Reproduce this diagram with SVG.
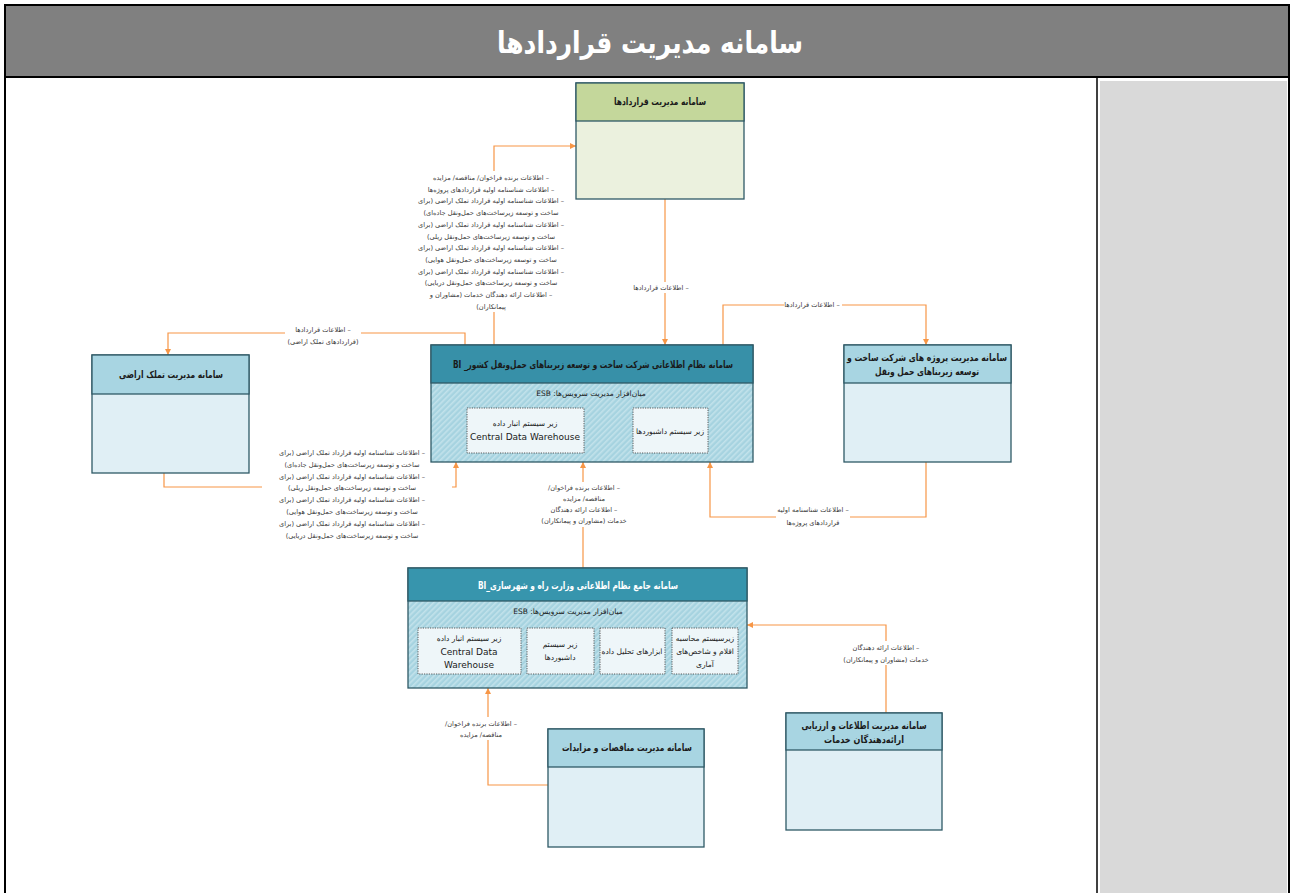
<svg xmlns="http://www.w3.org/2000/svg" width="1291" height="893" viewBox="0 0 1291 893">
<defs>
<style>
.fa{font-family:"DejaVu Sans",sans-serif;direction:rtl;text-anchor:middle;}
.en{font-family:"DejaVu Sans","Liberation Sans",sans-serif;text-anchor:middle;}
.lbl{font-size:6.6px;fill:#3a3a3a;}
.hd{font-size:10px;font-weight:bold;fill:#1a1a1a;}
.hdw{font-size:10px;font-weight:bold;fill:#ffffff;}
.sub{font-size:7.5px;fill:#1a1a1a;}
.box{stroke:#2f5966;stroke-width:1.3;}
.inner{fill:#eef6f9;stroke:#4a4a4a;stroke-width:0.9;stroke-dasharray:1.2 1.2;}
.con{fill:none;stroke:#f79646;stroke-width:1.2;}
.bg{fill:#ffffff;}
</style>
<marker id="arr" viewBox="0 0 6 6" refX="6" refY="3" markerWidth="6" markerHeight="6" markerUnits="userSpaceOnUse" orient="auto">
<path d="M0,0 L6,3 L0,6 z" fill="#f79646"/>
</marker>
<pattern id="hatch" patternUnits="userSpaceOnUse" width="4" height="4" patternTransform="rotate(45)">
<rect width="4" height="4" fill="#a6d3e0"/>
<rect width="1.6" height="4" fill="#c2e2eb"/>
</pattern>
</defs>

<!-- frame -->
<rect x="0" y="0" width="1291" height="893" fill="#ffffff"/>
<rect x="5" y="5" width="1284" height="72" fill="#808080"/>
<rect x="1100" y="81" width="187" height="812" fill="#d9d9d9"/>
<rect x="5" y="5" width="1284" height="890" fill="none" stroke="#000" stroke-width="2"/>
<line x1="5" y1="77" x2="1289" y2="77" stroke="#000" stroke-width="2"/>
<line x1="1097" y1="77" x2="1097" y2="893" stroke="#000" stroke-width="1.5"/>
<text class="fa" x="650" y="53" font-size="30" font-weight="bold" fill="#ffffff" textLength="306" lengthAdjust="spacingAndGlyphs">سامانه مدیریت قراردادها</text>

<!-- connectors -->
<g id="connectors">
<path class="con" d="M494,345 V146 H576" marker-end="url(#arr)"/>
<path class="con" d="M665,199 V345" marker-end="url(#arr)"/>
<path class="con" d="M465,345 V333 H168 V355" marker-end="url(#arr)"/>
<path class="con" d="M723,345 V305 H926 V345" marker-end="url(#arr)"/>
<path class="con" d="M164,473 V487 H456 V462" marker-end="url(#arr)"/>
<path class="con" d="M926,462 V517 H710 V462" marker-end="url(#arr)"/>
<path class="con" d="M583,568 V462" marker-end="url(#arr)"/>
<path class="con" d="M886,713 V625 H747" marker-end="url(#arr)"/>
<path class="con" d="M548,785 H488 V688" marker-end="url(#arr)"/>
</g>

<!-- connector labels -->
<g id="labels">
<rect class="bg" x="418" y="171" width="148" height="141"/>
<g class="fa lbl">
<text x="491" y="180">– اطلاعات برنده فراخوان/ مناقصه/ مزایده</text>
<text x="491" y="191.7">– اطلاعات شناسنامه اولیه قراردادهای پروژه‌ها</text>
<text x="491" y="203.4">– اطلاعات شناسنامه اولیه قرارداد تملک اراضی (برای</text>
<text x="491" y="215.1">ساخت و توسعه زیرساخت‌های حمل‌ونقل جاده‌ای)</text>
<text x="491" y="226.8">– اطلاعات شناسنامه اولیه قرارداد تملک اراضی (برای</text>
<text x="491" y="238.5">ساخت و توسعه زیرساخت‌های حمل‌ونقل ریلی)</text>
<text x="491" y="250.2">– اطلاعات شناسنامه اولیه قرارداد تملک اراضی (برای</text>
<text x="491" y="261.9">ساخت و توسعه زیرساخت‌های حمل‌ونقل هوایی)</text>
<text x="491" y="273.6">– اطلاعات شناسنامه اولیه قرارداد تملک اراضی (برای</text>
<text x="491" y="285.3">ساخت و توسعه زیرساخت‌های حمل‌ونقل دریایی)</text>
<text x="491" y="297">– اطلاعات ارائه دهندگان خدمات (مشاوران و</text>
<text x="491" y="308.7">پیمانکاران)</text>
</g>

<rect class="bg" x="634" y="282" width="56" height="11"/>
<text class="fa lbl" x="661" y="290">– اطلاعات قراردادها</text>

<rect class="bg" x="285" y="324" width="76" height="22"/>
<text class="fa lbl" x="323" y="332">– اطلاعات قراردادها</text>
<text class="fa lbl" x="323" y="344">(قراردادهای تملک اراضی)</text>

<rect class="bg" x="784" y="299" width="58" height="11"/>
<text class="fa lbl" x="812" y="307">– اطلاعات قراردادها</text>

<rect class="bg" x="262" y="446" width="190" height="94"/>
<g class="fa lbl" font-size="7.6">
<text x="352" y="455">– اطلاعات شناسنامه اولیه قرارداد تملک اراضی (برای</text>
<text x="352" y="466.8">ساخت و توسعه زیرساخت‌های حمل‌ونقل جاده‌ای)</text>
<text x="352" y="478.6">– اطلاعات شناسنامه اولیه قرارداد تملک اراضی (برای</text>
<text x="352" y="490.4">ساخت و توسعه زیرساخت‌های حمل‌ونقل ریلی)</text>
<text x="352" y="502.2">– اطلاعات شناسنامه اولیه قرارداد تملک اراضی (برای</text>
<text x="352" y="514">ساخت و توسعه زیرساخت‌های حمل‌ونقل هوایی)</text>
<text x="352" y="525.8">– اطلاعات شناسنامه اولیه قرارداد تملک اراضی (برای</text>
<text x="352" y="537.6">ساخت و توسعه زیرساخت‌های حمل‌ونقل دریایی)</text>
</g>

<rect class="bg" x="540" y="482" width="88" height="45"/>
<g class="fa lbl">
<text x="584" y="490">– اطلاعات برنده فراخوان/</text>
<text x="584" y="501">مناقصه/ مزایده</text>
<text x="584" y="512">– اطلاعات ارائه دهندگان</text>
<text x="584" y="523">خدمات (مشاوران و پیمانکاران)</text>
</g>

<rect class="bg" x="776" y="505" width="74" height="22"/>
<text class="fa lbl" x="813" y="512">– اطلاعات شناسنامه اولیه</text>
<text class="fa lbl" x="813" y="525">قراردادهای پروژه‌ها</text>

<rect class="bg" x="842" y="641" width="90" height="24"/>
<text class="fa lbl" x="886" y="650">– اطلاعات ارائه دهندگان</text>
<text class="fa lbl" x="886" y="662">خدمات (مشاوران و پیمانکاران)</text>

<rect class="bg" x="438" y="717" width="86" height="23"/>
<text class="fa lbl" x="481" y="726">– اطلاعات برنده فراخوان/</text>
<text class="fa lbl" x="481" y="737">مناقصه/ مزایده</text>
</g>

<!-- nodes -->
<g id="node-contracts">
<rect class="box" x="576" y="83" width="168" height="116" fill="#ebf1de"/>
<rect class="box" x="576" y="83" width="168" height="38" fill="#c4d79b"/>
<text class="fa hd" x="660" y="105" textLength="92" lengthAdjust="spacingAndGlyphs">سامانه مدیریت قراردادها</text>
</g>

<g id="node-land">
<rect class="box" x="92" y="355" width="157" height="118" fill="#e0eff5"/>
<rect class="box" x="92" y="355" width="157" height="39" fill="#a8d5e2"/>
<text class="fa hd" x="171" y="378" textLength="104" lengthAdjust="spacingAndGlyphs">سامانه مدیریت تملک اراضی</text>
</g>

<g id="node-company-bi">
<rect class="box" x="431" y="345" width="322" height="117" fill="url(#hatch)"/>
<rect class="box" x="431" y="345" width="322" height="38" fill="#3790a8"/>
<text class="fa hd" x="593" y="368" textLength="280" lengthAdjust="spacingAndGlyphs">سامانه نظام اطلاعاتی شرکت ساخت و توسعه زیربناهای حمل‌ونقل کشور_ BI</text>
<text class="fa sub" x="591" y="396">میان‌افزار مدیریت سرویس‌ها: ESB</text>
<rect class="inner" x="467" y="408" width="117" height="45"/>
<text class="fa sub" x="525" y="426">زیر سیستم انبار داده</text>
<text class="en" x="525" y="440" font-size="9" fill="#1a1a1a">Central Data Warehouse</text>
<rect class="inner" x="633" y="408" width="75" height="45"/>
<text class="fa sub" x="670" y="434">زیر سیستم داشبوردها</text>
</g>

<g id="node-projects">
<rect class="box" x="844" y="345" width="167" height="117" fill="#e0eff5"/>
<rect class="box" x="844" y="345" width="167" height="38" fill="#a8d5e2"/>
<text class="fa hd" x="927" y="361" textLength="160" lengthAdjust="spacingAndGlyphs">سامانه مدیریت پروژه های شرکت ساخت و</text>
<text class="fa hd" x="927" y="375" textLength="104" lengthAdjust="spacingAndGlyphs">توسعه زیربناهای حمل ونقل</text>
</g>

<g id="node-ministry-bi">
<rect class="box" x="408" y="568" width="339" height="120" fill="url(#hatch)"/>
<rect class="box" x="408" y="568" width="339" height="33" fill="#3795ad"/>
<text class="fa hdw" x="578" y="589" textLength="200" lengthAdjust="spacingAndGlyphs">سامانه جامع نظام اطلاعاتی وزارت راه و شهرسازی_BI</text>
<text class="fa sub" x="568" y="614">میان‌افزار مدیریت سرویس‌ها: ESB</text>
<rect class="inner" x="418" y="628" width="103" height="46"/>
<text class="fa sub" x="469" y="641">زیر سیستم انبار داده</text>
<text class="en" x="469" y="655" font-size="9" fill="#1a1a1a">Central Data</text>
<text class="en" x="469" y="668" font-size="9" fill="#1a1a1a">Warehouse</text>
<rect class="inner" x="527" y="628" width="67" height="46"/>
<text class="fa sub" x="560" y="647">زیر سیستم</text>
<text class="fa sub" x="560" y="660">داشبوردها</text>
<rect class="inner" x="600" y="628" width="65" height="46"/>
<text class="fa sub" x="632" y="654">ابزارهای تحلیل داده</text>
<rect class="inner" x="672" y="628" width="66" height="46"/>
<text class="fa sub" x="705" y="641">زیرسیستم محاسبه</text>
<text class="fa sub" x="705" y="654">اقلام و شاخص‌های</text>
<text class="fa sub" x="705" y="667">آماری</text>
</g>

<g id="node-providers">
<rect class="box" x="786" y="713" width="156" height="117" fill="#e0eff5"/>
<rect class="box" x="786" y="713" width="156" height="37" fill="#a8d5e2"/>
<text class="fa hd" x="864" y="729" textLength="125" lengthAdjust="spacingAndGlyphs">سامانه مدیریت اطلاعات و ارزیابی</text>
<text class="fa hd" x="864" y="743" textLength="80" lengthAdjust="spacingAndGlyphs">ارائه‌دهندگان خدمات</text>
</g>

<g id="node-tenders">
<rect class="box" x="548" y="729" width="156" height="118" fill="#e0eff5"/>
<rect class="box" x="548" y="729" width="156" height="38" fill="#a8d5e2"/>
<text class="fa hd" x="627" y="751" textLength="130" lengthAdjust="spacingAndGlyphs">سامانه مدیریت مناقصات و مزایدات</text>
</g>
</svg>
